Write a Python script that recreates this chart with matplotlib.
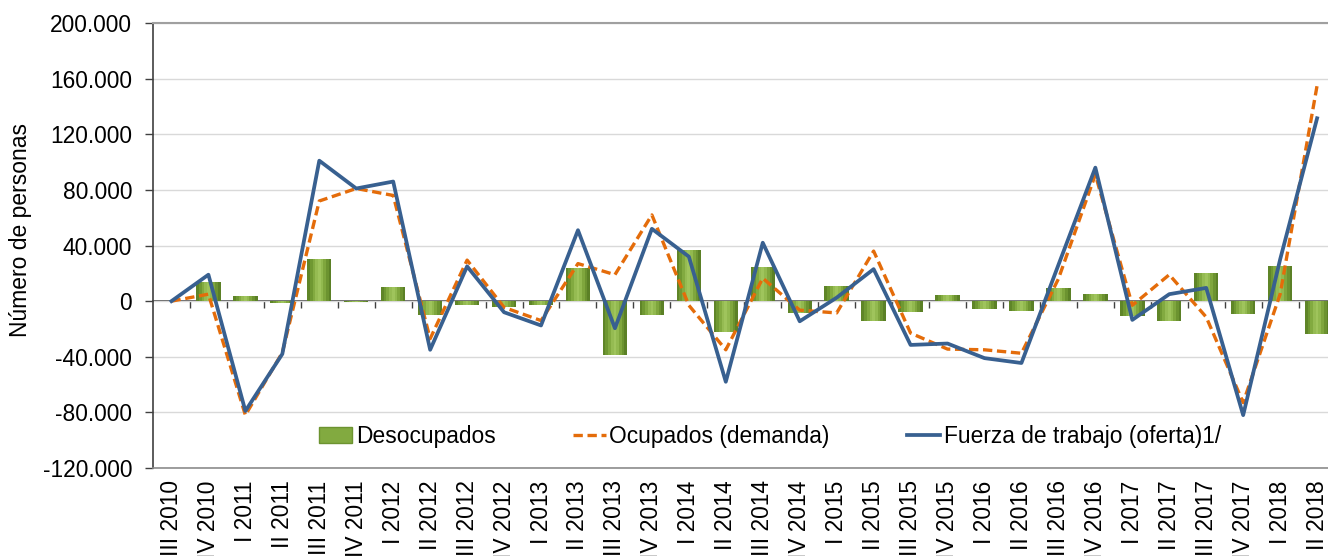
import numpy as np
import matplotlib
matplotlib.use("Agg")
import matplotlib.pyplot as plt
from matplotlib.patches import Patch
from matplotlib.lines import Line2D
from matplotlib.ticker import FuncFormatter, MultipleLocator

plt.rcParams['font.family'] = ['Liberation Sans', 'DejaVu Sans']

## DATOS (variacion trimestral, numero de personas)
trimestres = ["III 2010", "IV 2010", "I 2011", "II 2011", "III 2011", "IV 2011",
              "I 2012", "II 2012", "III 2012", "IV 2012", "I 2013", "II 2013",
              "III 2013", "IV 2013", "I 2014", "II 2014", "III 2014", "IV 2014",
              "I 2015", "II 2015", "III 2015", "IV 2015", "I 2016", "II 2016",
              "III 2016", "IV 2016", "I 2017", "II 2017", "III 2017", "IV 2017",
              "I 2018", "II 2018"]

desocupados = [0, 14000, 4000, -1000, 30000, -500, 10500, -10000, -3000, -4000,
               -3000, 24000, -38500, -10000, 36500, -22000, 24500, -8500,
               11000, -14000, -8000, 4500, -6000, -7000, 9500, 5000, -11000,
               -14500, 20500, -9000, 25000, -24000]

ocupados = [0, 5000, -82000, -37000, 72000, 81000, 76000, -27000, 29500, -4500,
            -14000, 27000, 19000, 62000, -3000, -35000, 16500, -6500, -8500,
            36000, -23000, -34500, -35000, -37500, 16000, 91000, -3000, 19000,
            -11500, -73000, 5000, 155000]

fuerza_trabajo = [0, 19000, -79000, -38000, 101000, 81000, 86000, -35000, 25000,
                  -8000, -17500, 51000, -19500, 52000, 32000, -58000, 42000,
                  -14500, 2500, 23000, -31500, -30500, -41000, -44500, 26000,
                  96000, -13500, 5000, 9500, -82000, 30000, 131500]

x = np.arange(len(trimestres))
fs = 16.4

fig = plt.figure(figsize=(13.28, 5.56), dpi=100)
ax = fig.add_axes([0.1152, 0.1583, 0.8905, 0.8003])

## barras tipo cilindro: degradado horizontal con franjas
ancho = 0.66
tonos = ["#5f8528", "#6f9832", "#82aa40", "#95bb52", "#9fc45c",
         "#92b94f", "#7fa63d", "#6c9330", "#5b8026"]
n = len(tonos)
for k, tono in enumerate(tonos):
    desp = -ancho / 2 + ancho / n * (k + 0.5)
    ax.bar(x + desp, desocupados, width=ancho / n, color=tono,
           linewidth=0, zorder=2)

ax.plot(x, ocupados, color="#e46c0a", lw=2.4, ls=(0, (2.8, 1.4)),
        zorder=3)
ax.plot(x, fuerza_trabajo, color="#386090", lw=2.7, zorder=4)

ax.set_xlim(-0.5, len(trimestres) - 0.5)
ax.set_ylim(-120000, 200000)
ax.yaxis.set_major_locator(MultipleLocator(40000))
ax.yaxis.set_major_formatter(FuncFormatter(lambda v, p: f"{int(v):,}".replace(",", ".")))
ax.grid(axis="y", color="#d9d9d9", lw=1.0, zorder=0)
ax.set_axisbelow(True)

ax.spines["right"].set_visible(False)
ax.spines["top"].set_color("#a0a0a0")
ax.spines["top"].set_linewidth(1.5)
ax.spines["bottom"].set_color("#8c8c8c")
ax.spines["bottom"].set_linewidth(1.2)
ax.spines["left"].set_color("#404040")
ax.spines["left"].set_linewidth(1.2)

ax.set_xticks(x)
ax.set_xticklabels(trimestres, rotation=90, fontsize=fs)
ax.tick_params(axis="x", length=0, pad=9)
ax.tick_params(axis="y", labelsize=fs, length=6, width=1.0, color="#404040", pad=9)

## eje del cero con marcas entre categorias
eje0 = ax.secondary_xaxis(0, transform=ax.transData)
eje0.set_xticks(np.arange(len(trimestres) - 1) + 0.5)
eje0.set_xticklabels([])
eje0.tick_params(length=5, width=1.0, color="#404040", direction="out")
eje0.spines["bottom"].set_color("#404040")
eje0.spines["bottom"].set_linewidth(1.2)

ax.set_ylabel("Número de personas", fontsize=16.5)
ax.yaxis.set_label_coords(-0.102, 0.535)

handles = [Patch(facecolor="#82aa40", edgecolor="#6c9330"),
           Line2D([], [], color="#e46c0a", lw=2.4, ls=(0, (2.8, 1.4))),
           Line2D([], [], color="#386090", lw=2.7)]
labels = ["Desocupados", "Ocupados (demanda)", "Fuerza de trabajo (oferta)1/"]
ax.legend(handles, labels, loc="center left", bbox_to_anchor=(0.133, 0.07),
          ncol=3, frameon=False, fontsize=fs, handlelength=1.45,
          handletextpad=0.15, columnspacing=3.4, borderaxespad=0)

fig.savefig("out.png", dpi=100)
